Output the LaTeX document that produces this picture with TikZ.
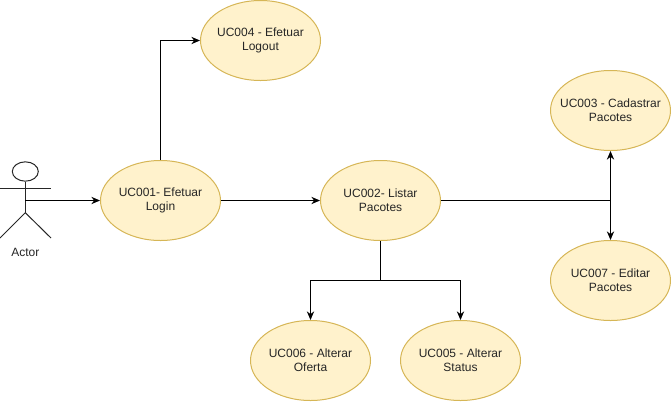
\documentclass[tikz,border=0pt]{standalone}
\usepackage{fontspec}
\setmainfont{Liberation Sans}
\usetikzlibrary{shapes.geometric, arrows.meta}
\definecolor{ucfill}{RGB}{255,242,204}
\definecolor{ucline}{RGB}{214,182,86}
\tikzset{
  usecase/.style={draw=ucline, fill=ucfill, ellipse, line width=0.75pt, inner sep=-10pt,
    minimum width=90pt, minimum height=60pt, align=center, font=\fontsize{9}{10.5}\selectfont, text=black!85},
  link/.style={-{Stealth[length=6.5pt, width=5.5pt]}, line width=0.75pt},
  actorline/.style={line width=0.75pt, black!85}
}

\begin{document}
\begin{tikzpicture}[x=0.75pt, y=-0.75pt]
\useasboundingbox (0,0) rectangle (671,401);

% Use cases
\node[usecase] (uc001) at (160.5,200.5) {UC001- Efetuar\\Login};
\node[usecase] (uc004) at (260.5,40.5) {UC004 - Efetuar\\Logout};
\node[usecase] (uc002) at (380.5,200.5) {UC002- Listar\\Pacotes};
\node[usecase] (uc003) at (610.5,110.5) {UC003 - Cadastrar\\Pacotes};
\node[usecase] (uc007) at (610.5,280.5) {UC007 - Editar\\Pacotes};
\node[usecase] (uc006) at (310.5,360.5) {UC006 - Alterar\\Oferta};
\node[usecase] (uc005) at (460.5,360.5) {UC005 - Alterar\\Status};

% Actor
\node[actorline, draw, ellipse, minimum width=19.5pt, minimum height=14.5pt, inner sep=0pt] (head) at (25.3,171.5) {};
\coordinate (hip) at (25.3,212.7);
\coordinate (waist) at (25.3,200.5);
\draw[actorline] (head.south) -- (hip);
\draw[actorline] (0,188) -- (51,188);
\draw[actorline] (0,238) -- (hip) -- (51,238);
\node[font=\fontsize{9}{10.5}\selectfont, text=black!85, inner sep=0pt] (actor) at (25.3,252.5) {Actor};

% Split points
\coordinate (split) at (380.5,280.5);
\coordinate (fork) at (610.5,200.5);

% Arrows
\draw[link] (waist) -- (uc001);
\draw[link] (uc001) -- (uc002);
\draw[link] (uc001.north) |- (uc004.west);
\draw[link] (uc002.south) -- (split) -| (uc006.north);
\draw[link] (split) -| (uc005.north);
\draw[link] (uc002.east) -- (fork) -- (uc003.south);
\draw[link] (fork) -- (uc007.north);
\end{tikzpicture}
\end{document}
